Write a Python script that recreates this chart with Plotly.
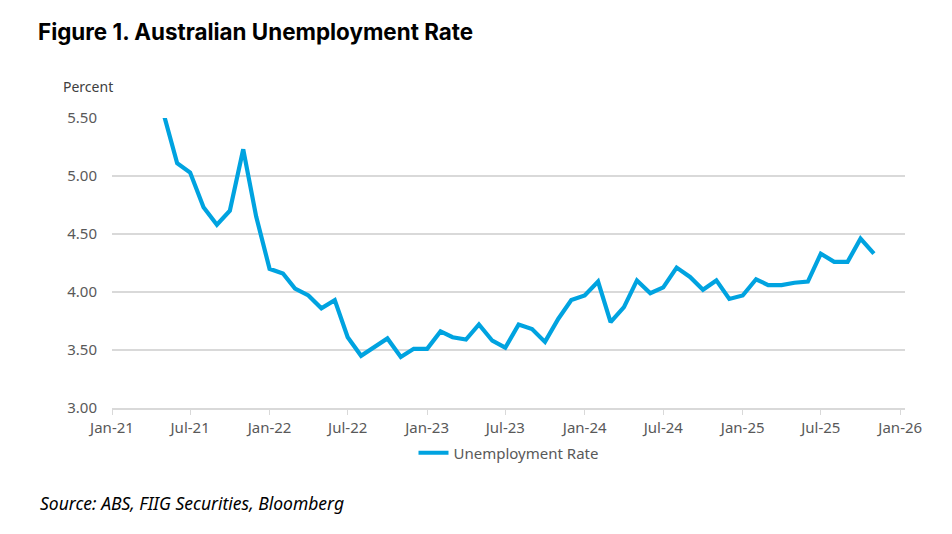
import plotly.graph_objects as go

# monthly unemployment rate (%), first-of-month dates
months = [
    "2021-04-01", "2021-05-01", "2021-06-01", "2021-07-01", "2021-08-01", "2021-09-01",
    "2021-10-01", "2021-11-01", "2021-12-01", "2022-01-01", "2022-02-01", "2022-03-01",
    "2022-04-01", "2022-05-01", "2022-06-01", "2022-07-01", "2022-08-01", "2022-09-01",
    "2022-10-01", "2022-11-01", "2022-12-01", "2023-01-01", "2023-02-01", "2023-03-01",
    "2023-04-01", "2023-05-01", "2023-06-01", "2023-07-01", "2023-08-01", "2023-09-01",
    "2023-10-01", "2023-11-01", "2023-12-01", "2024-01-01", "2024-02-01", "2024-03-01",
    "2024-04-01", "2024-05-01", "2024-06-01", "2024-07-01", "2024-08-01", "2024-09-01",
    "2024-10-01", "2024-11-01", "2024-12-01", "2025-01-01", "2025-02-01", "2025-03-01",
    "2025-04-01", "2025-05-01", "2025-06-01", "2025-07-01", "2025-08-01", "2025-09-01",
    "2025-10-01", "2025-11-01",
]
unemployment_rate = [
    5.75, 5.53, 5.11, 5.03, 4.73, 4.58,
    4.70, 5.23, 4.65, 4.20, 4.16, 4.03,
    3.97, 3.86, 3.93, 3.61, 3.45, 3.53,
    3.60, 3.44, 3.51, 3.51, 3.66, 3.61,
    3.59, 3.72, 3.58, 3.52, 3.72, 3.68,
    3.57, 3.77, 3.93, 3.97, 4.09, 3.74,
    3.87, 4.10, 3.99, 4.04, 4.21, 4.13,
    4.02, 4.10, 3.94, 3.97, 4.11, 4.06,
    4.06, 4.08, 4.09, 4.33, 4.26, 4.26,
    4.46, 4.33,
]

tick_dates = ["2021-01-01", "2021-07-01", "2022-01-01", "2022-07-01", "2023-01-01",
              "2023-07-01", "2024-01-01", "2024-07-01", "2025-01-01", "2025-07-01",
              "2026-01-01"]
tick_labels = ["Jan-21", "Jul-21", "Jan-22", "Jul-22", "Jan-23", "Jul-23",
               "Jan-24", "Jul-24", "Jan-25", "Jul-25", "Jan-26"]
y_ticks = [3.0, 3.5, 4.0, 4.5, 5.0, 5.5]

LINE_COLOR = "#00A3E0"
TEXT_GREY = "#595959"
FONT = "Noto Sans"

# page renders with an 8px body offset, so positions are shifted up/left by 8
OFF = 8

fig = go.Figure()
fig.add_trace(go.Scatter(
    x=months,
    y=unemployment_rate,
    mode="lines",
    name="Unemployment Rate",
    line=dict(color=LINE_COLOR, width=4.2),
))

fig.update_layout(
    width=952,
    height=534,
    margin=dict(l=112 - OFF, r=47 + OFF, t=118 - OFF, b=126 + OFF),
    paper_bgcolor="white",
    plot_bgcolor="white",
    font=dict(family=FONT, size=14, color=TEXT_GREY),
    title=dict(
        text="<b>Figure 1. Australian Unemployment Rate</b>",
        font=dict(family="Inter", size=22.4, color="black"),
        x=(38 - OFF) / 952, xanchor="left", xref="container",
        y=1 - (32 - OFF) / 534, yanchor="middle", yref="container",
    ),
    showlegend=True,
    legend=dict(
        orientation="h",
        x=0.5, xanchor="center",
        y=(408 - 453) / 290, yanchor="middle",
        font=dict(family=FONT, size=15, color=TEXT_GREY),
        itemwidth=30,
    ),
    xaxis=dict(
        type="date",
        range=["2021-01-01", "2026-01-12"],
        tickvals=tick_dates,
        ticktext=tick_labels,
        showgrid=False,
        showline=True,
        linecolor="#d9d9d9",
        linewidth=1.5,
        ticks="outside",
        ticklen=5,
        tickcolor="#d9d9d9",
        tickfont=dict(family=FONT, size=15, color=TEXT_GREY),
        zeroline=False,
    ),
    yaxis=dict(
        range=[3.0, 5.5],
        tickvals=y_ticks,
        tickformat=".2f",
        showgrid=True,
        gridcolor="#d9d9d9",
        gridwidth=1.5,
        zeroline=False,
        showline=False,
        ticks="",
        ticklabelstandoff=14,
        tickfont=dict(family=FONT, size=15, color=TEXT_GREY),
    ),
)

fig.add_annotation(
    text="Percent",
    xref="paper", yref="paper",
    x=(88 - 112) / 793, y=(408 - 87) / 290,
    xanchor="center", yanchor="middle",
    showarrow=False,
    font=dict(family=FONT, size=14, color="#404040"),
)

fig.add_annotation(
    text="<i>Source: ABS, FIIG Securities, Bloomberg</i>",
    xref="paper", yref="paper",
    x=(38 - 112) / 793, y=(408 - 503) / 290,
    xanchor="left", yanchor="middle",
    showarrow=False,
    font=dict(family=FONT, size=17.5, color="black"),
)

fig.write_html("out.html")
